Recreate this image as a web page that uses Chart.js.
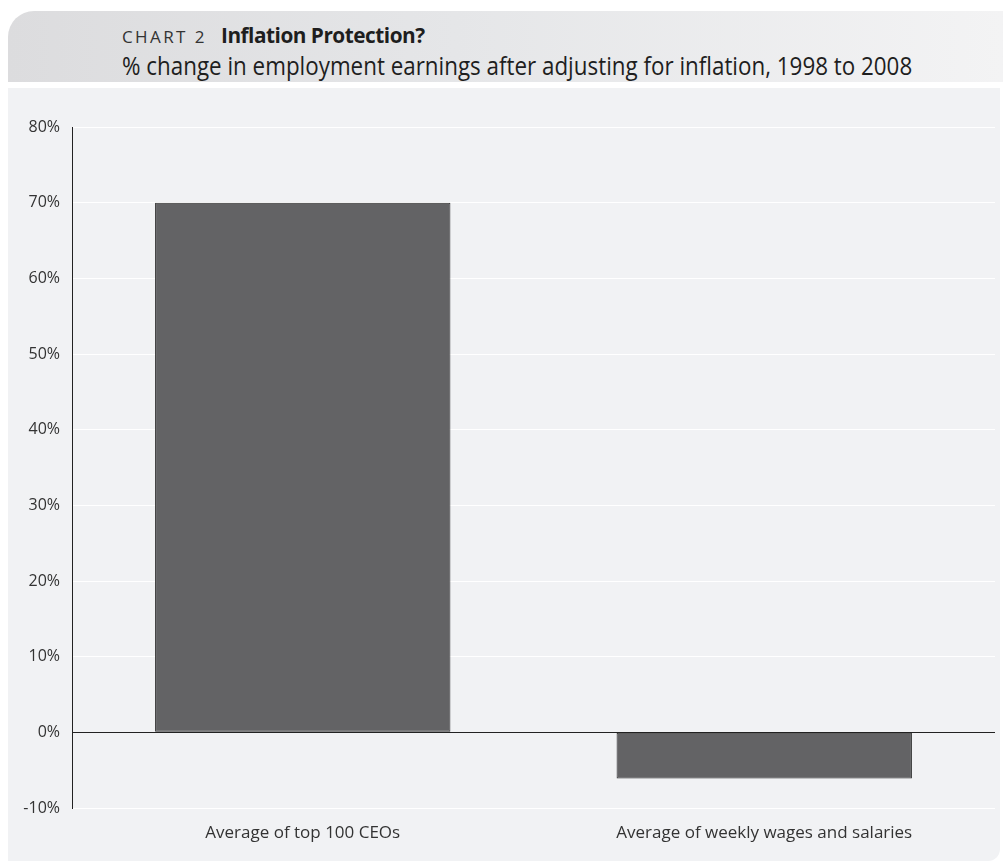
<!DOCTYPE html>
<html>
<head>
<meta charset="utf-8">
<script src="https://cdn.jsdelivr.net/npm/chart.js@4"></script>
<style>
  body { margin: 0; background: #fff; width: 1003px; height: 863px; position: relative; overflow: hidden; font-family: 'Open Sans', sans-serif; }
  .header {
    position: absolute; left: 8px; top: 11px; width: 995px; height: 71px;
    border-top-left-radius: 26px;
    background: linear-gradient(to right, #dcdcde, #e5e6e8 45%, #f3f3f4);
  }
  .kicker { position: absolute; left: 114px; top: 10px; white-space: nowrap; }
  .kicker .num { font-size: 17px; letter-spacing: 2.4px; color: #333; }
  .kicker b { font-size: 21px; color: #1e1e1e; margin-left: 14px; letter-spacing: -0.5px; font-weight: 700; display: inline-block; transform: scaleX(0.99); transform-origin: left; }
  .sub { position: absolute; left: 114px; top: 37px; font-size: 25px; color: #1e1e1e; white-space: nowrap; transform: scaleX(0.895); transform-origin: left; }
  .panel {
    position: absolute; left: 8px; top: 88px; width: 992px; height: 773px;
    background: #f1f2f4; border-bottom-right-radius: 12px;
  }
  #wrap { position: absolute; left: -8px; top: 0; width: 1003px; height: 772px; }
</style>
</head>
<body>
<div class="header">
  <div class="kicker"><span class="num">CHART 2</span><b>Inflation Protection?</b></div>
  <div class="sub">% change in employment earnings after adjusting for inflation, 1998 to 2008</div>
</div>
<div class="panel">
  <div id="wrap"><canvas id="chart"></canvas></div>
</div>
<script>
const categories = ['Average of top 100 CEOs', 'Average of weekly wages and salaries'];
const changePct = [70, -6.1];
const yMin = -10, yMax = 80, yStep = 10;

const ctx = document.getElementById('chart');
new Chart(ctx, {
  type: 'bar',
  data: {
    labels: categories,
    datasets: [{
      data: changePct,
      backgroundColor: '#636365',
      borderColor: '#2b2b2b',
      borderWidth: 1,
      borderSkipped: false,
      barPercentage: 0.64,
      categoryPercentage: 1
    }]
  },
  options: {
    responsive: true,
    maintainAspectRatio: false,
    animation: false,
    layout: { padding: { top: 39, right: 8, left: 0, bottom: 0 } },
    plugins: { legend: { display: false }, tooltip: { enabled: false } },
    scales: {
      x: {
        grid: { display: false },
        border: { display: false },
        ticks: { color: '#333', padding: 7, font: { family: "'Open Sans', sans-serif", size: 17 } },
        afterFit: s => { s.height = 52; }
      },
      y: {
        min: yMin,
        max: yMax,
        ticks: {
          stepSize: yStep,
          color: '#333',
          padding: 12,
          font: { family: "'Open Sans', sans-serif", size: 16 },
          callback: v => v + '%'
        },
        grid: {
          drawTicks: false,
          lineWidth: 1,
          color: c => c.tick && c.tick.value === 0 ? '#222' : '#ffffff'
        },
        border: { display: true, color: '#222', width: 1 },
        afterFit: s => { s.width = 72; }
      }
    }
  }
});
</script>
</body>
</html>
